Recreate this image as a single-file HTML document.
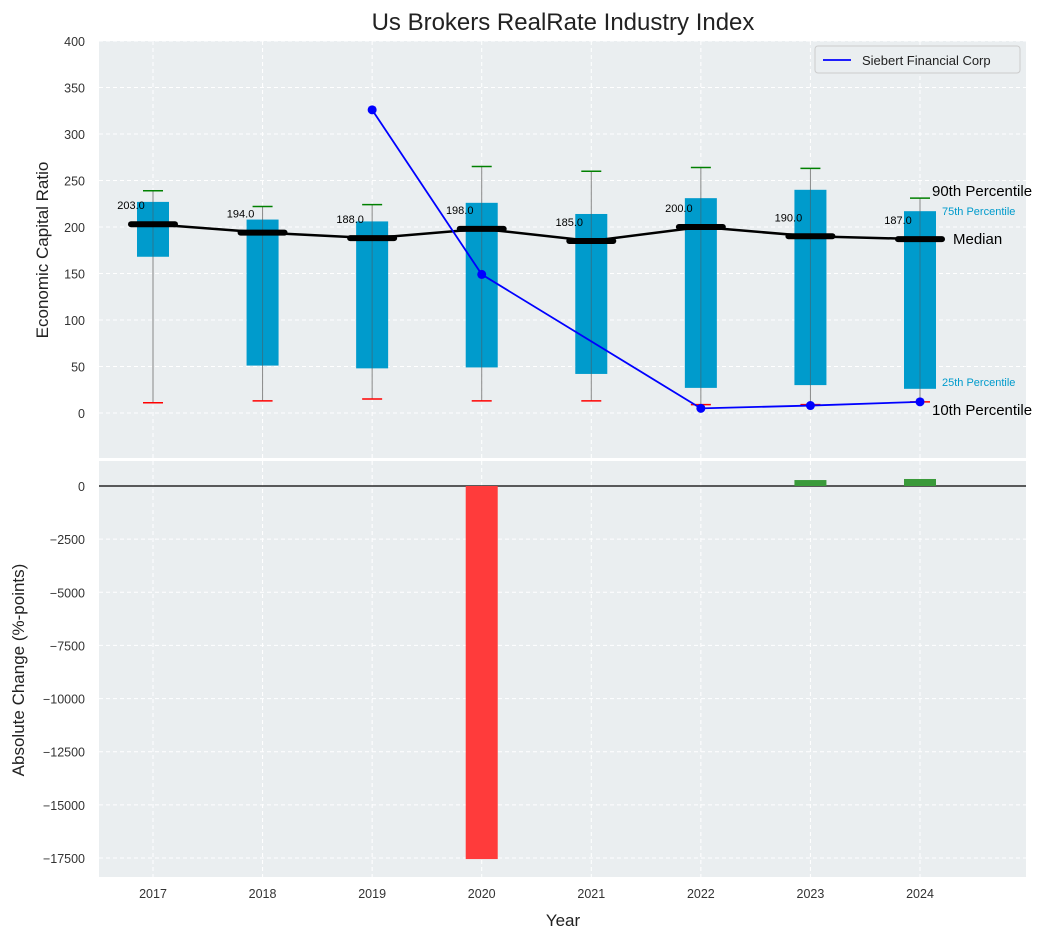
<!DOCTYPE html>
<html><head><meta charset="utf-8"><style>
body{margin:0;background:#fff;font-family:"Liberation Sans",sans-serif}
svg text{font-family:"Liberation Sans",sans-serif}
</style></head><body>
<svg id="c" width="1051" height="940" xmlns="http://www.w3.org/2000/svg"></svg>
<script>
const years=[2017,2018,2019,2020,2021,2022,2023,2024];
const p25=[168,51,48,49,42,27,30,26];
const p75=[227,208,206,226,214,231,240,217];
const p10=[11,13,15,13,13,9,9,12];
const p90=[239,222,224,265,260,264,263,231];
const med=[203,194,188,198,185,200,190,187];
const siebert=[null,null,326,149,null,5,8,12];
const change=[null,null,null,-17550,null,null,280,330];
const topTicks=[0,50,100,150,200,250,300,350,400];
const botTicks=[0,-2500,-5000,-7500,-10000,-12500,-15000,-17500];
const NS="http://www.w3.org/2000/svg",svg=document.getElementById('c');
function el(t,a,txt,par){const e=document.createElementNS(NS,t);for(const k in a)e.setAttribute(k,a[k]);if(txt!=null)e.textContent=txt;(par||svg).appendChild(e);return e;}
const X=i=>153+i*(920-153)/7;
const yT=v=>413-v*0.93;
const yB=v=>486-v*372/17500;
const L=99,R=1026;
let p=el('rect',{x:L,y:41,width:R-L,height:417,fill:'#eaeef0'});
p=el('rect',{x:L,y:461,width:R-L,height:416,fill:'#eaeef0'});
years.forEach((y,i)=>{el('line',{x1:X(i),x2:X(i),y1:41,y2:458,stroke:'#fff','stroke-dasharray':'4,3'});el('line',{x1:X(i),x2:X(i),y1:461,y2:877,stroke:'#fff','stroke-dasharray':'4,3'});
 let t=el('text',{x:X(i),y:898,'text-anchor':'middle','font-size':12.5,fill:'#333'},y);});
topTicks.forEach(v=>{el('line',{x1:L,x2:R,y1:yT(v),y2:yT(v),stroke:'#fff','stroke-dasharray':'4,3'});let t=el('text',{x:85,y:yT(v)+5,'text-anchor':'end','font-size':12.5,fill:'#333'},v);});
botTicks.forEach(v=>{el('line',{x1:L,x2:R,y1:yB(v),y2:yB(v),stroke:'#fff','stroke-dasharray':'4,3'});let t=el('text',{x:85,y:yB(v)+5,'text-anchor':'end','font-size':12.5,fill:'#333'},v<0?'\u2212'+Math.abs(v):v);});
years.forEach((y,i)=>{const x=X(i);
 let w=el('line',{x1:x,x2:x,y1:yT(p90[i]),y2:yT(p10[i]),stroke:'#888','stroke-width':1});
 let b=el('rect',{x:x-16,y:yT(p75[i]),width:32,height:yT(p25[i])-yT(p75[i]),fill:'#009bcc'});
 el('line',{x1:x,x2:x,y1:yT(p75[i]),y2:yT(p25[i]),stroke:'#555','stroke-width':1,opacity:0.5});
 let c1=el('line',{x1:x-10,x2:x+10,y1:yT(p90[i]),y2:yT(p90[i]),stroke:'green','stroke-width':1.5});
 let c2=el('line',{x1:x-10,x2:x+10,y1:yT(p10[i]),y2:yT(p10[i]),stroke:'red','stroke-width':1.5});
});
let d=years.map((y,i)=>(i?'L':'M')+X(i)+','+yT(med[i])).join('');
let ml=el('path',{d,fill:'none',stroke:'#000','stroke-width':2.5});
years.forEach((y,i)=>{let m=el('line',{x1:X(i)-22,x2:X(i)+22,y1:yT(med[i]),y2:yT(med[i]),stroke:'#000','stroke-width':6,'stroke-linecap':'round'});
 let t=el('text',{x:X(i)-22,y:yT(med[i])-15,'text-anchor':'middle','font-size':11,fill:'#000'},med[i].toFixed(1));});
const pts=siebert.map((v,i)=>v==null?null:[X(i),yT(v)]).filter(a=>a);
let sl=el('path',{d:pts.map((q,i)=>(i?'L':'M')+q[0]+','+q[1]).join(''),fill:'none',stroke:'blue','stroke-width':1.8});
pts.forEach(q=>{let c=el('circle',{cx:q[0],cy:q[1],r:4.5,fill:'blue'});});
const li=7,lx=X(li);
[[lx+12,yT(p90[li])-2,'90th Percentile',15,'#000'],[lx+22,yT(p75[li])+4,'75th Percentile',11,'#009bcc'],[lx+33,yT(med[li])+5,'Median',15,'#000'],[lx+22,yT(p25[li])-3,'25th Percentile',11,'#009bcc'],[lx+12,yT(p10[li])+13,'10th Percentile',15,'#000']].forEach(a=>{let t=el('text',{x:a[0],y:a[1],'font-size':a[3],fill:a[4]},a[2]);});
el('line',{x1:L,x2:R,y1:yB(0),y2:yB(0),stroke:'#000','stroke-width':1.2});
change.forEach((v,i)=>{if(v==null)return;let b=el('rect',{x:X(i)-16,y:Math.min(yB(0),yB(v)),width:32,height:Math.abs(yB(v)-yB(0)),fill:v<0?'#ff3b3b':'#3a9a3a'});});
let lg=el('g',{});
el('rect',{x:815,y:46,width:205,height:27,fill:'#eaeef0',stroke:'#ccc',rx:3},null,lg);
el('line',{x1:823,x2:851,y1:60,y2:60,stroke:'blue','stroke-width':1.8},null,lg);
el('text',{x:862,y:65,'font-size':13,fill:'#222'},'Siebert Financial Corp',lg);
let t=el('text',{x:563,y:30,'text-anchor':'middle','font-size':24,fill:'#222'},'Us Brokers RealRate Industry Index');
t=el('text',{x:563,y:926,'text-anchor':'middle','font-size':17,fill:'#222'},'Year');
t=el('text',{x:48,y:250,'text-anchor':'middle','font-size':17,fill:'#222',transform:'rotate(-90 48 250)'},'Economic Capital Ratio');
t=el('text',{x:24,y:670,'text-anchor':'middle','font-size':17,fill:'#222',transform:'rotate(-90 24 670)'},'Absolute Change (%-points)');
</script></body></html>
